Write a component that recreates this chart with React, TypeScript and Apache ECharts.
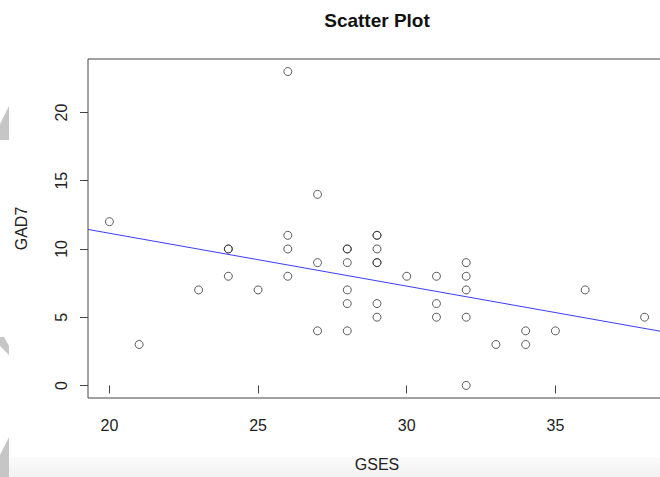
import React, { useEffect, useRef } from "react";
import * as echarts from "echarts";

const gses: number[] = [
  20, 21, 23, 24, 24, 24, 25, 26, 26, 26, 26, 27, 27, 27,
  28, 28, 28, 28, 28, 28, 29, 29, 29, 29, 29, 29, 29, 30,
  31, 31, 31, 32, 32, 32, 32, 32, 33, 34, 34, 35, 36, 38,
];
const gad7: number[] = [
  12, 3, 7, 10, 10, 8, 7, 23, 11, 10, 8, 14, 9, 4,
  10, 10, 9, 7, 6, 4, 11, 11, 10, 9, 9, 6, 5, 8,
  8, 6, 5, 9, 8, 7, 5, 0, 3, 4, 3, 4, 7, 5,
];
const xTicks: number[] = [20, 25, 30, 35];
const yTicks: number[] = [0, 5, 10, 15, 20];

const X_MIN = 19.28;
const X_MAX = 38.72;
const Y_MIN = -0.92;
const Y_MAX = 23.92;

function fit(xs: number[], ys: number[]) {
  const n = xs.length;
  const mx = xs.reduce((a, b) => a + b, 0) / n;
  const my = ys.reduce((a, b) => a + b, 0) / n;
  let sxy = 0;
  let sxx = 0;
  for (let i = 0; i < n; i++) {
    sxy += (xs[i] - mx) * (ys[i] - my);
    sxx += (xs[i] - mx) * (xs[i] - mx);
  }
  const b = sxy / sxx;
  return { a: my - b * mx, b };
}

export default function App() {
  const ref = useRef<HTMLDivElement>(null);
  useEffect(() => {
    if (!ref.current) return;
    const chart = echarts.init(ref.current, undefined, { renderer: "svg" });
    const { a, b } = fit(gses, gad7);
    const font = "'Liberation Sans', Arial, Helvetica, sans-serif";
    const axisText = { color: "#222", fontSize: 16, fontFamily: font };
    chart.setOption({
      animation: false,
      backgroundColor: "#ffffff",
      grid: {
        left: 88,
        top: 59,
        right: 0,
        bottom: 77,
        show: true,
        borderColor: "#444",
        borderWidth: 1,
        backgroundColor: "transparent",
      },
      xAxis: {
        type: "value",
        min: X_MIN,
        max: X_MAX,
        name: "GSES",
        nameLocation: "middle",
        nameGap: 58,
        nameTextStyle: axisText,
        axisLine: { show: false },
        splitLine: { show: false },
        axisTick: {
          show: true,
          inside: false,
          length: 8,
          customValues: xTicks,
          lineStyle: { color: "#444", width: 1 },
        },
        axisLabel: {
          ...axisText,
          margin: 19,
          customValues: xTicks,
        },
      },
      yAxis: {
        type: "value",
        min: Y_MIN,
        max: Y_MAX,
        name: "GAD7",
        nameLocation: "middle",
        nameGap: 59,
        nameRotate: 90,
        nameTextStyle: axisText,
        axisLine: { show: false },
        splitLine: { show: false },
        axisTick: {
          show: true,
          inside: false,
          length: 8,
          customValues: yTicks,
          lineStyle: { color: "#444", width: 1 },
        },
        axisLabel: {
          ...axisText,
          margin: 19,
          rotate: 90,
          customValues: yTicks,
        },
      },
      graphic: [
        {
          type: "rect",
          z: -10,
          shape: { x: 0, y: 457, width: 666, height: 20 },
          style: {
            fill: new echarts.graphic.LinearGradient(0, 0, 0, 1, [
              { offset: 0, color: "#fbfbfb" },
              { offset: 1, color: "#f1f1f1" },
            ]),
          },
        },
        {
          type: "polygon",
          shape: { points: [[0, 124], [9, 106], [9, 140], [0, 140]] },
          style: { fill: "#c6c6c6" },
        },
        {
          type: "polygon",
          shape: { points: [[0, 337], [4, 337], [9, 346], [9, 355], [0, 346]] },
          style: { fill: "#c6c6c6" },
        },
        {
          type: "polygon",
          shape: { points: [[0, 455], [9, 437], [9, 477], [0, 477]] },
          style: { fill: "#c6c6c6" },
        },
        {
          type: "text",
          x: 377,
          y: 20,
          style: {
            text: "Scatter Plot",
            fill: "#111",
            font: `bold 19px ${font}`,
            textAlign: "center",
            textVerticalAlign: "middle",
          },
        },
      ],
      series: [
        {
          type: "scatter",
          data: gses.map((x, i) => [x, gad7[i]]),
          symbol: "circle",
          symbolSize: 8,
          itemStyle: {
            color: "transparent",
            borderColor: "#333",
            borderWidth: 1,
          },
          z: 3,
        },
        {
          type: "line",
          data: [
            [X_MIN, a + b * X_MIN],
            [X_MAX, a + b * X_MAX],
          ],
          symbol: "none",
          lineStyle: { color: "#3c3cff", width: 1 },
          z: 2,
        },
      ],
    });
    return () => chart.dispose();
  }, []);
  return (
    <div
      ref={ref}
      style={{ position: "fixed", left: 0, top: 0, width: 666, height: 477 }}
    />
  );
}
